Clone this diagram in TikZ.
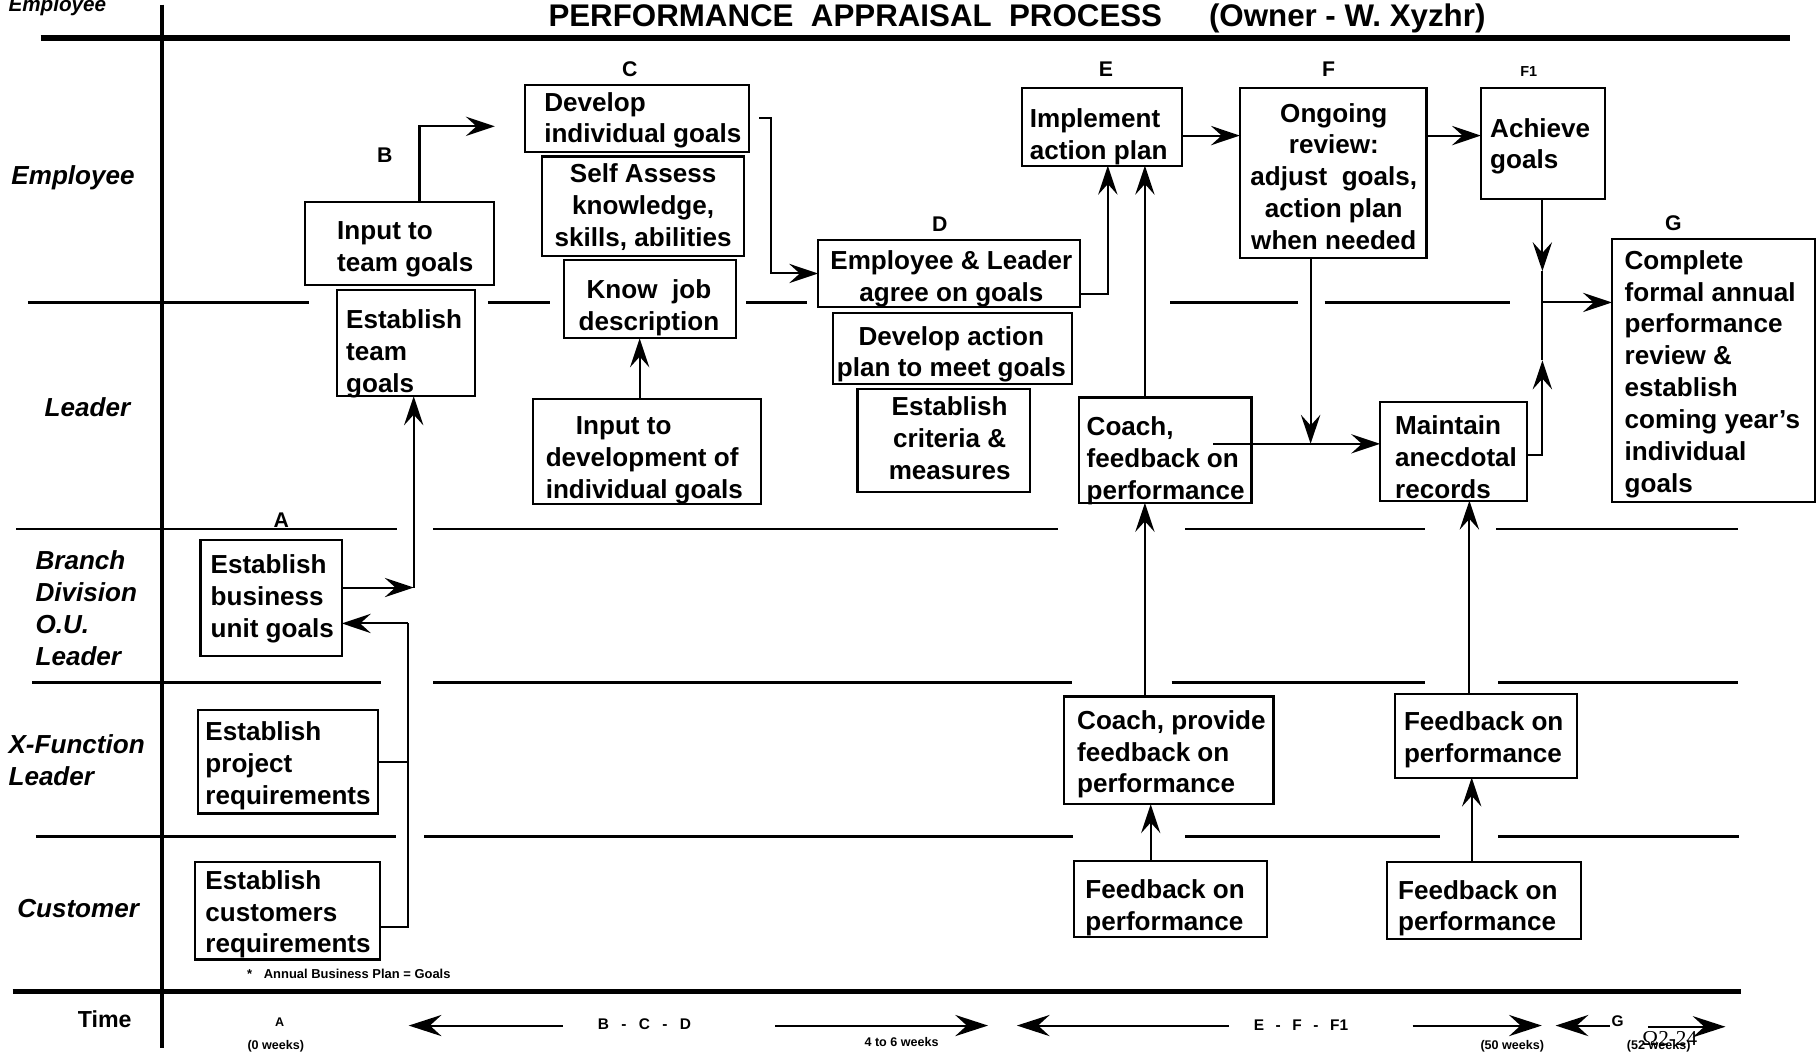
\documentclass[tikz,border=0pt]{standalone}
\usepackage{fontspec}
\setmainfont{Liberation Sans}
\newfontfamily\serifovl{Liberation Serif}
\usetikzlibrary{arrows.meta,fit}
\newdimen\uu \uu=0.6pt
\begin{document}
\begin{tikzpicture}[x=0.6pt,y=-0.6pt,
  bx/.style={draw, line width=1.1pt, inner sep=0pt, outer sep=0pt},
  tl/.style={inner sep=0pt, outer sep=0pt, align=left, anchor=north west, font=\fontsize{13.5}{16.5}\selectfont\bfseries},
  tc/.style={tl, align=center, anchor=north},
  lanelbl/.style={inner sep=0pt, outer sep=0pt, align=left, font=\fontsize{13.5}{16.7}\selectfont\bfseries\itshape},
  lettr/.style={inner sep=0pt, outer sep=0pt, font=\fontsize{11}{13}\selectfont\bfseries},
  lanesep/.style={line width=1.4pt},
  heavy/.style={line width=3pt},
  con/.style={line width=1.05pt},
  arr/.style={line width=1.05pt, -{Stealth[length=15pt,width=10pt,inset=5.5pt]}},
  tarr/.style={line width=1pt, -{Stealth[length=17pt,width=11pt,inset=6pt]}},
  tinytxt/.style={inner sep=0pt, outer sep=0pt, font=\fontsize{6.5}{8}\selectfont\bfseries},
  smalltxt/.style={inner sep=0pt, outer sep=0pt, font=\fontsize{8}{9.5}\selectfont\bfseries}
]
\clip (0,0) rectangle (1568,908);

% ---------- frame lines ----------
\draw[heavy] (35,33) -- (1545,33);
\draw[line width=2.6pt] (11,856) -- (1502,856);
\draw[line width=2pt] (140,4) -- (140,904);

% lane separators
\draw[lanesep] (24,261) -- (267,261);
\draw[lanesep] (421,261) -- (475,261);
\draw[lanesep] (644,261) -- (696,261);
\draw[lanesep] (1010,261) -- (1120,261);
\draw[lanesep] (1143,261) -- (1303,261);

\draw[lanesep] (14,456.5) -- (343,456.5);
\draw[lanesep] (374,456.5) -- (913,456.5);
\draw[lanesep] (1023,456.5) -- (1230,456.5);
\draw[lanesep] (1291,456.5) -- (1500,456.5);

\draw[lanesep] (28,589) -- (329,589);
\draw[lanesep] (374,589) -- (925,589);
\draw[lanesep] (1011,589) -- (1230,589);
\draw[lanesep] (1293,589) -- (1500,589);

\draw[lanesep] (31,722) -- (342,722);
\draw[lanesep] (366,722) -- (926,722);
\draw[lanesep] (1023,722) -- (1243,722);
\draw[lanesep] (1293,722) -- (1501,722);

% ---------- title ----------
\node[inner sep=0pt, anchor=base west, font=\fontsize{16.2}{19}\selectfont\bfseries] (ttl1) at (473,22.7) {PERFORMANCE\ \ APPRAISAL\ \ PROCESS};
\node[inner sep=0pt, anchor=base west, font=\fontsize{16.2}{19}\selectfont\bfseries] (ttl2) at (1043,22.7) {(Owner - W. Xyzhr)};

% ---------- lane labels ----------
\node[lanelbl, anchor=base west, font=\fontsize{10.7}{12}\selectfont\bfseries\itshape] (lEmpTop) at (7.4,10) {Employee};
\node[lanelbl, anchor=base west] (lEmp) at (9.9,159) {Employee};
\node[lanelbl, anchor=base west] (lLead) at (38.6,359) {Leader};
\node[lanelbl, anchor=north west] (lBr) at (30.7,474.8) {Branch\\Division\\O.U.\\Leader};
\node[lanelbl, anchor=north west] (lXF) at (7.4,633.5) {X-Function\\Leader};
\node[lanelbl, anchor=base west] (lCust) at (14.9,792) {Customer};
\node[inner sep=0pt, anchor=base west, font=\fontsize{12}{14}\selectfont\bfseries] (lTime) at (66.9,887) {Time};

% ---------- stage letters ----------
\node[lettr] (sA) at (242.7,449) {A};
\node[lettr] (sB) at (332,133.8) {B};
\node[lettr] (sC) at (543.5,59.5) {C};
\node[lettr] (sD) at (811,193.3) {D};
\node[lettr] (sE) at (954.4,59.5) {E};
\node[lettr] (sF) at (1146.6,59.5) {F};
\node[lettr, font=\fontsize{7.5}{9}\selectfont\bfseries] (sF1) at (1319.3,62) {F1};
\node[lettr] (sG) at (1444,192.2) {G};

% ---------- boxes ----------
\node[bx, fit={(263,174) (426,246)}] (itg) {};
\node[tl] (itgT) at (291,191.5) {Input to\\team goals};

\node[bx, fit={(291,250) (410,342)}] (etg) {};
\node[tl] (etgT) at (298.7,267.5) {Establish\\team\\goals};

\node[bx, fit={(453,73) (646,131)}] (dig) {};
\node[tl] (digT) at (469.7,79.5) {Develop\\individual goals};

\node[bx, fit={(468,135) (642,221)}] (sak) {};
\node[tc] (sakT) at (555,141.5) {Self Assess\\knowledge,\\skills, abilities};

\node[bx, fit={(487,224) (635,292)}] (kjd) {};
\node[tc] (kjdT) at (560,241.5) {Know\ \ job\\description};

\node[bx, fit={(460,344) (657,435)}] (idg) {};
\node[tl] (idgT) at (471,359.5) {\hspace*{26\uu}Input to\\development of\\individual goals};

\node[bx, fit={(706,207) (932,265)}] (elg) {};
\node[tc] (elgT) at (821,216.5) {Employee \& Leader\\agree on goals};

\node[bx, fit={(719,270) (925,331)}] (dap) {};
\node[tc] (dapT) at (821,281.5) {Develop action\\plan to meet goals};

\node[bx, fit={(740,336) (889,424.5)}] (ecm) {};
\node[tc] (ecmT) at (819.5,342.5) {Establish\\criteria \&\\measures};

\node[bx, fit={(931,343) (1080,434)}] (cfl) {};
\node[tl] (cflT) at (937.8,359.5) {Coach,\\feedback on\\performance};

\node[bx, fit={(882,76) (1020,143)}] (iap) {};
\node[tl] (iapT) at (888.7,93.5) {Implement\\action plan};

\node[bx, fit={(1070,76) (1231,223)}] (ogr) {};
\node[tc] (ogrT) at (1151,89) {Ongoing\\review:\\adjust\ \ goals,\\action plan\\when needed};

\node[bx, fit={(1278,76) (1385,172)}] (ach) {};
\node[tl] (achT) at (1286,102) {Achieve\\goals};

\node[bx, fit={(1391,206) (1566,433)}] (cfa) {};
\node[tl] (cfaT) at (1402,216) {Complete\\formal annual\\performance\\review \&\\establish\\coming year’s\\individual\\goals};

\node[bx, fit={(1191,347) (1318,432)}] (mar) {};
\node[tl] (marT) at (1204,358.5) {Maintain\\anecdotal\\records};

\node[bx, fit={(173,466) (295,566)}] (bug) {};
\node[tl] (bugT) at (181.8,479) {Establish\\business\\unit goals};

\node[bx, fit={(171,613) (326,702)}] (epr) {};
\node[tl] (eprT) at (177.3,623) {Establish\\project\\requirements};

\node[bx, fit={(168,744) (328,828)}] (ecr) {};
\node[tl] (ecrT) at (177.3,751) {Establish\\customers\\requirements};

\node[bx, fit={(918,601) (1099,694)}] (cpf) {};
\node[tl] (cpfT) at (929.6,613) {Coach, provide\\feedback on\\performance};

\node[bx, fit={(1204,599) (1361,671)}] (fpx) {};
\node[tl] (fpxT) at (1211.6,614) {Feedback on\\performance};

\node[bx, fit={(927,743) (1093,808.5)}] (fpca) {};
\node[tl] (fpcaT) at (936.7,759) {Feedback on\\performance};

\node[bx, fit={(1197,744) (1364,810)}] (fpcb) {};
\node[tl] (fpcbT) at (1206.5,759.5) {Feedback on\\performance};

% footnote
\node[inner sep=0pt, anchor=base west, font=\fontsize{6.7}{8}\selectfont\bfseries] (fnote) at (213,844.5) {*\hspace{0.9em}Annual Business Plan = Goals};

% ---------- connectors ----------
\coordinate (a1) at (427,109);
\draw[arr] (362,0 |- itg.north) |- (a1);

\draw[arr] ([xshift=9\uu]dig.east) -| ([xshift=-41\uu]elg.west) -- (elg.west);

\draw[arr] (552,0 |- idg.north) -- (552,0 |- kjd.south);

\draw[arr] ([yshift=-18\uu]elg.east) -| (956,0 |- iap.south);
\draw[arr] (988,0 |- cfl.north) -- (988,0 |- iap.south);

\draw[arr] (iap.east |- 0,117) -- (ogr.west |- 0,117);
\draw[arr] (ogr.east |- 0,117) -- (ach.west |- 0,117);

\coordinate (j1) at (1131,383);
\draw[arr] (j1 |- ogr.south) -- (j1);
\draw[arr] ([xshift=-33\uu]cfl.east |- j1) -- (mar.west |- j1);

\coordinate (jn) at (1331,261);
\coordinate (m1) at (1331,234);
\coordinate (m2) at (1331,311);
\draw[arr] (m1 |- ach.south) -- (m1);
\draw[con] (m1) -- (jn);
\draw[arr] ([yshift=-3.5\uu]mar.east) -| (m2);
\draw[con] (m2) -- (jn);
\draw[arr] (jn) -- (cfa.west |- jn);

\draw[arr] (988,0 |- cpf.north) -- (988,0 |- cfl.south);
\draw[arr] (993,0 |- fpca.north) -- (993,0 |- cpf.south);
\draw[arr] (1268,0 |- fpx.north) -- (1268,0 |- mar.south);
\draw[arr] (1270,0 |- fpcb.north) -- (1270,0 |- fpx.south);

\coordinate (c1) at (357,507);
\draw[arr] (bug.east |- c1) -- (c1);
\draw[arr] (c1) -- (c1 |- etg.south);

\coordinate (c2) at (352,538);
\draw[con] (epr.east) -| (c2);
\draw[con] ([yshift=-14\uu]ecr.east) -| (c2);
\draw[arr] (c2) -- (bug.east |- c2);

% ---------- time row ----------
\node[tinytxt] (tA) at (241.3,882) {A};
\node[tinytxt] (t0w) at (238,902.5) {(0 weeks)};
\node[smalltxt, anchor=west] (tBCD) at (516,884) {B\hspace{0.8em}-\hspace{0.8em}C\hspace{0.8em}-\hspace{0.8em}D};
\node[tinytxt] (t46) at (778,899) {4 to 6 weeks};
\node[smalltxt, anchor=west] (tEF) at (1082,885) {E\hspace{0.75em}-\hspace{0.75em}F\hspace{0.75em}-\hspace{0.75em}F1};
\node[tinytxt] (t50) at (1305,902.5) {(50 weeks)};
\node[smalltxt] (tG) at (1396,881) {G};
\node[tinytxt, anchor=west] (t52) at (1404,902.5) {(52 weeks)};
\node[inner sep=0pt, font=\fontsize{11}{13}\selectfont\serifovl] (tref) at (1441,896) {Ω2-24};

\coordinate (ta1) at (485.5,885); \coordinate (ta2) at (352.7,885);
\draw[tarr] (ta1) -- (ta2);
\coordinate (tb1) at (669,885); \coordinate (tb2) at (852.6,885);
\draw[tarr] (tb1) -- (tb2);
\coordinate (tc1) at (1060.6,885); \coordinate (tc2) at (877.5,885);
\draw[tarr] (tc1) -- (tc2);
\coordinate (td1) at (1219,885); \coordinate (td2) at (1330.5,885);
\draw[tarr] (td1) -- (td2);
\coordinate (te1) at (1389,885); \coordinate (te2) at (1342.4,885);
\draw[tarr] (te1) -- (te2);
\coordinate (tf1) at (1422,886); \coordinate (tf2) at (1489,886);
\draw[tarr] (tf1) -- (tf2);
\end{tikzpicture}
\end{document}
